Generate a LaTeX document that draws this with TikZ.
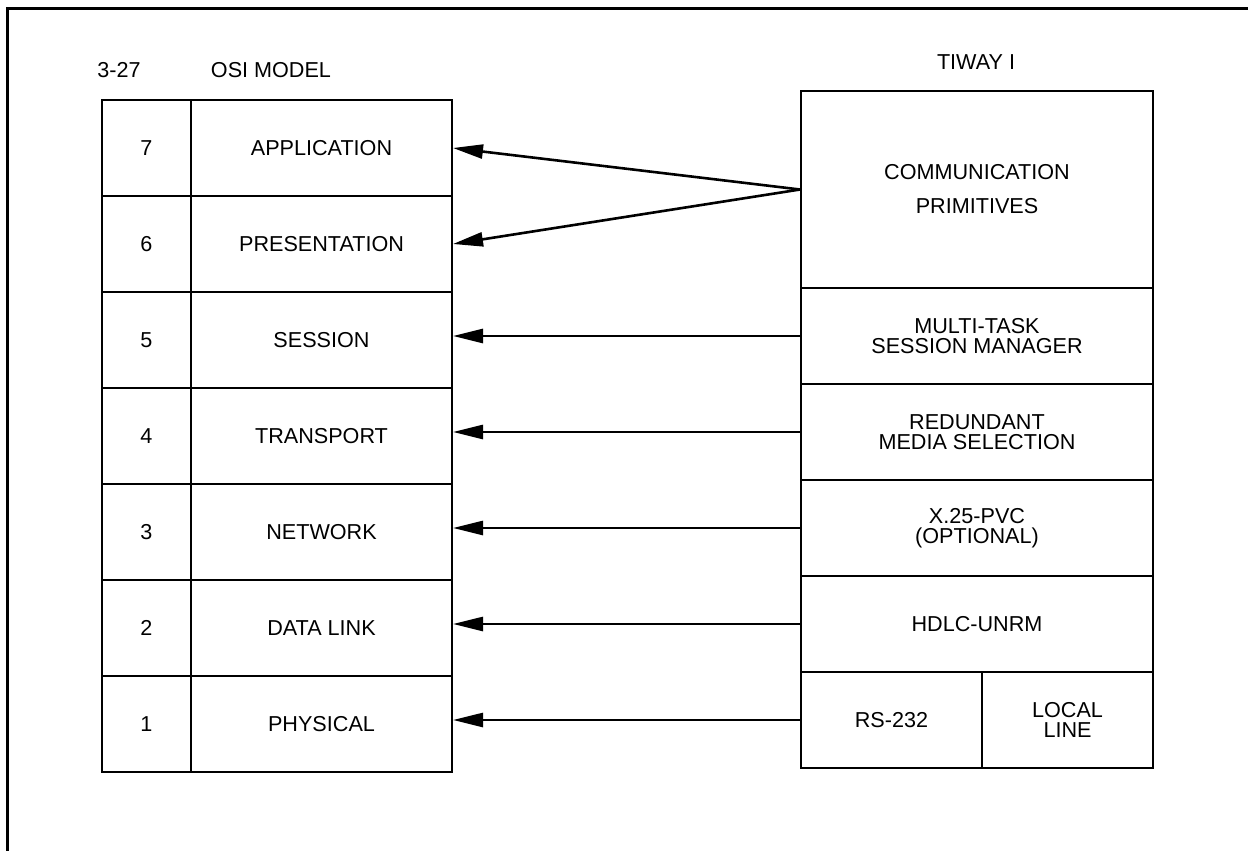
\documentclass[tikz,border=0pt]{standalone}
\usepackage{fontspec}
\setmainfont{Liberation Sans}
\usetikzlibrary{arrows.meta}
\tikzset{
  cell/.style={draw, line width=1pt, inner sep=0pt, align=center, font=\fontsize{10.8}{10}\selectfont},
  numcell/.style={cell, minimum width=44.5pt, minimum height=48pt},
  namecell/.style={cell, minimum width=130.5pt, minimum height=48pt},
  rcell/.style={cell, minimum width=176pt, minimum height=48pt},
  halfcell/.style={cell, minimum width=90.5pt, minimum height=48pt},
  label/.style={inner sep=0pt, font=\fontsize{10.8}{12}\selectfont},
  arr/.style={line width=1.3pt, -{Triangle[length=15pt,width=7pt]}}
}
\begin{document}
\begin{tikzpicture}[x=0.5pt, y=-0.5pt]
\useasboundingbox (0,0) rectangle (1248,851);
\fill[white] (0,0) rectangle (1248,851);
\clip (0,0) rectangle (1248,851);
\draw[line width=1.5pt] (7,8) rectangle (1300,900);

% headings
\node[label] (fig) at (119,70) {3-27};
\node[label] (osi) at (271,70) {OSI MODEL};
\node[label] (tiway) at (976,62) {TIWAY I};

% OSI stack
\node[numcell] (n7) at (146.5,148) {7};
\node[namecell] (app) at (321.5,148) {APPLICATION};
\node[numcell] (n6) at (146.5,244) {6};
\node[namecell] (pres) at (321.5,244) {PRESENTATION};
\node[numcell] (n5) at (146.5,340) {5};
\node[namecell] (sess) at (321.5,340) {SESSION};
\node[numcell] (n4) at (146.5,436) {4};
\node[namecell] (trans) at (321.5,436) {TRANSPORT};
\node[numcell] (n3) at (146.5,532) {3};
\node[namecell] (net) at (321.5,532) {NETWORK};
\node[numcell] (n2) at (146.5,628) {2};
\node[namecell] (dlink) at (321.5,628) {DATA LINK};
\node[numcell] (n1) at (146.5,724) {1};
\node[namecell] (phys) at (321.5,724) {PHYSICAL};

% TIWAY stack
\node[cell, minimum width=176pt, minimum height=98.5pt] (comm) at (977,189.5) {COMMUNICATION\\[7pt]PRIMITIVES};
\node[rcell] (msm) at (977,336) {MULTI-TASK\\SESSION MANAGER};
\node[rcell] (rms) at (977,432) {REDUNDANT\\MEDIA SELECTION};
\node[rcell] (x25) at (977,528) {X.25-PVC\\(OPTIONAL)};
\node[rcell] (hdlc) at (977,624) {HDLC-UNRM};
\node[halfcell] (rs) at (891.5,720) {RS-232};
\node[cell, minimum width=85.5pt, minimum height=48pt] (local) at (1067.5,720) {LOCAL\\LINE};

% connectors
\draw[arr] (comm.west) -- (app.east);
\draw[arr] (comm.west) -- (pres.east);
\draw[arr] (msm.west) -- (msm.west -| sess.east);
\draw[arr] (rms.west) -- (rms.west -| trans.east);
\draw[arr] (x25.west) -- (x25.west -| net.east);
\draw[arr] (hdlc.west) -- (hdlc.west -| dlink.east);
\draw[arr] (rs.west) -- (rs.west -| phys.east);
\end{tikzpicture}
\end{document}
